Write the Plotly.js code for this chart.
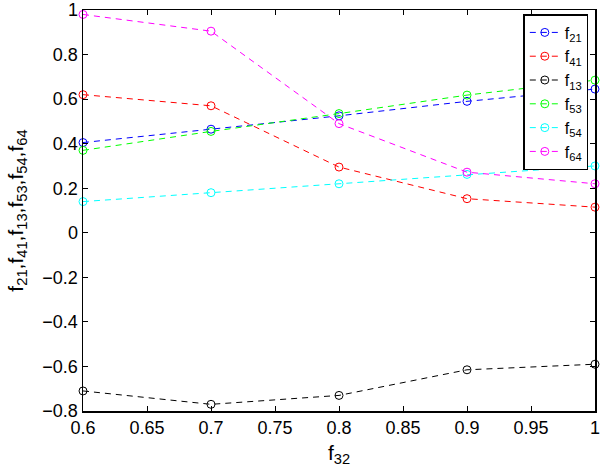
<!DOCTYPE html>
<html>
<head>
<meta charset="utf-8">
<script src="https://cdn.plot.ly/plotly-3.0.1.min.js"></script>
<style>
  html, body { margin: 0; padding: 0; background: #fff; }
  #chart { width: 600px; height: 473px; }
</style>
</head>
<body>
<div id="chart"></div>
<script>
/* ---- data ---- */
const f32 = [0.6, 0.7, 0.8, 0.9, 1.0];
const f21 = [0.405, 0.465, 0.525, 0.59, 0.645];
const f41 = [0.62, 0.57, 0.295, 0.153, 0.115];
const f13 = [-0.71, -0.77, -0.73, -0.615, -0.59];
const f53 = [0.37, 0.455, 0.535, 0.618, 0.685];
const f54 = [0.14, 0.18, 0.22, 0.262, 0.3];
const f64 = [0.98, 0.905, 0.49, 0.272, 0.22];

const SERIES = [
  { name: 'f<sub>21</sub>', y: f21, color: '#0000ff' },
  { name: 'f<sub>41</sub>', y: f41, color: '#ff0000' },
  { name: 'f<sub>13</sub>', y: f13, color: '#000000' },
  { name: 'f<sub>53</sub>', y: f53, color: '#00ff00' },
  { name: 'f<sub>54</sub>', y: f54, color: '#00ffff' },
  { name: 'f<sub>64</sub>', y: f64, color: '#ff00ff' },
];

const FONT = 'Liberation Sans, Arial, Helvetica, sans-serif';

const traces = SERIES.map(s => ({
  x: f32,
  y: s.y,
  type: 'scatter',
  mode: 'lines+markers',
  name: s.name,
  cliponaxis: false,
  line: { color: s.color, width: 1, dash: '6px,5px' },
  marker: { symbol: 'circle-open', size: 8, color: s.color, line: { width: 1, color: s.color } },
}));

const axisCommon = {
  showgrid: false,
  zeroline: false,
  showline: true,
  linecolor: '#000',
  linewidth: 1.5,
  mirror: 'ticks',
  ticks: 'inside',
  ticklen: 5,
  tickcolor: '#000',
  ticklabeloverflow: 'allow',
  tickfont: { family: FONT, size: 18, color: '#000' },
};

const layout = {
  width: 600,
  height: 473,
  paper_bgcolor: '#fff',
  plot_bgcolor: '#fff',
  font: { family: FONT, size: 18, color: '#000' },
  margin: { l: 83, r: 5, t: 10, b: 62 },
  xaxis: {
    ...axisCommon,
    range: [0.6, 1.0],
    dtick: 0.05,
    tickformat: '~r',
    title: { text: 'f<sub>32</sub>', font: { family: FONT, size: 21 }, standoff: 8 },
  },
  yaxis: {
    ...axisCommon,
    range: [-0.8, 1.0],
    dtick: 0.2,
    tickformat: '~r',
    title: { text: 'f<sub>21</sub>,f<sub>41</sub>,f<sub>13</sub>,f<sub>53</sub>,f<sub>54</sub>,f<sub>64</sub>', font: { family: FONT, size: 21 }, standoff: 13 },
  },
  showlegend: true,
  legend: {
    x: 0.86, y: 0.99, xanchor: 'left', yanchor: 'top',
    bgcolor: '#fff', bordercolor: '#000', borderwidth: 1.5,
    font: { family: FONT, size: 16, color: '#000' },
    tracegroupgap: 0,
    itemwidth: 30,
  },
};

Plotly.newPlot('chart', traces, layout, { displayModeBar: false, staticPlot: true });
</script>
</body>
</html>
